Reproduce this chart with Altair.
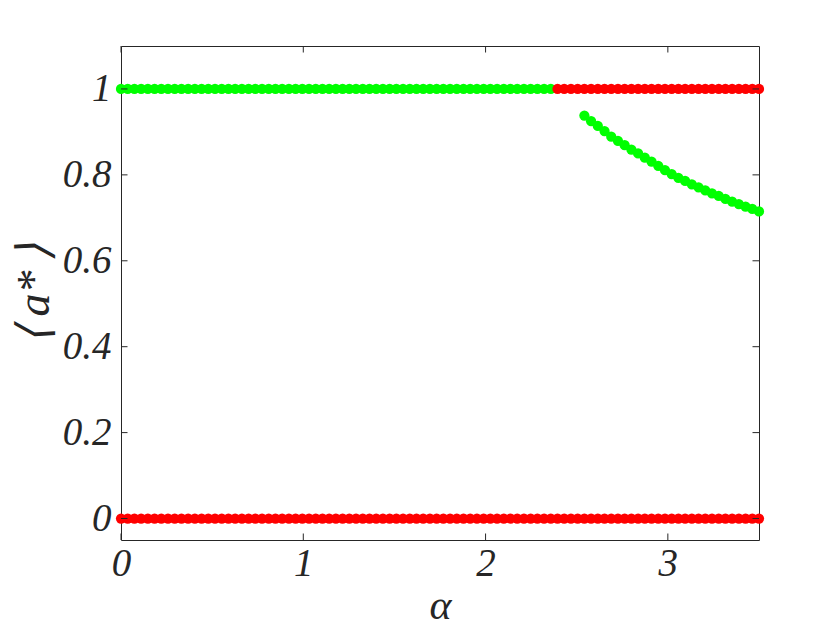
import altair as alt
import numpy as np
import pandas as pd

# sampling grid of alpha (96 uniformly spaced samples on [0, 3.5])
alpha = np.linspace(0.0, 3.5, 96)

# index ranges
green_top_end = 65      # green points at <a*>=1 for indices 0..64
red_top_start = 65      # red points at <a*>=1 for indices 65..95
curve_start = 69        # green curve for indices 69..95

curve_values = [0.938, 0.925, 0.914, 0.902, 0.889, 0.879, 0.869, 0.859, 0.850,
                0.840, 0.831, 0.821, 0.811, 0.802, 0.793, 0.786, 0.778, 0.771,
                0.764, 0.757, 0.751, 0.744, 0.738, 0.732, 0.726, 0.721, 0.715]

x_ticks = [0, 1, 2, 3]
y_ticks = [0, 0.2, 0.4, 0.6, 0.8, 1]

GREEN = "#00FF00"
RED = "#FF0000"
AX = "#262626"
FONT = "Liberation Serif"
W, H = 638, 494
TL = 6.5

red_bottom = pd.DataFrame({"a": alpha, "v": [0.0] * len(alpha)})
green_top = pd.DataFrame({"a": alpha[:green_top_end], "v": [1.0] * green_top_end})
red_top = pd.DataFrame({"a": alpha[red_top_start:], "v": [1.0] * (len(alpha) - red_top_start)})
green_curve = pd.DataFrame({"a": alpha[curve_start:], "v": curve_values})

xs = alt.Scale(domain=[0, 3.5], nice=False, zero=False)
ys = alt.Scale(domain=[-0.05, 1.1], nice=False, zero=False)


def lab(tsize):
    return dict(labelFont=FONT, labelFontStyle="italic", labelFontSize=39,
                labelColor=AX, ticks=False, domain=False, grid=False, labelFlush=False,
                labelOverlap=False,
                titleFont=FONT, titleFontStyle="italic", titleFontWeight="normal",
                titleFontSize=tsize, titleColor=AX)


x_enc = alt.X("a:Q", scale=xs,
              axis=alt.Axis(values=x_ticks, format="d", title="α", labelPadding=4,
                            titlePadding=2, **lab(42)))
y_enc = alt.Y("v:Q", scale=ys,
              axis=alt.Axis(values=y_ticks, format="~g", title="⟨\u2009a*\u2009⟩", labelPadding=10,
                            titlePadding=4, **lab(46)))


def pts(df, color):
    return alt.Chart(df).mark_circle(size=105, opacity=1, color=color).encode(x=x_enc, y=y_enc)


xt = pd.DataFrame({"a": x_ticks})
yt = pd.DataFrame({"v": y_ticks})
rule = dict(color=AX, strokeWidth=1)

ticks = [
    alt.Chart(xt).mark_rule(**rule).encode(x=x_enc, y=alt.value(H), y2=alt.value(H - TL)),
    alt.Chart(xt).mark_rule(**rule).encode(x=x_enc, y=alt.value(0), y2=alt.value(TL)),
    alt.Chart(yt).mark_rule(**rule).encode(y=y_enc, x=alt.value(0), x2=alt.value(TL)),
    alt.Chart(yt).mark_rule(**rule).encode(y=y_enc, x=alt.value(W), x2=alt.value(W - TL)),
]

chart = alt.layer(
    pts(red_bottom, RED),
    pts(green_top, GREEN),
    pts(red_top, RED),
    pts(green_curve, GREEN),
    *ticks,
).properties(
    width=W, height=H,
    background="white",
    autosize=alt.AutoSizeParams(type="none"),
    padding={"left": 113, "top": 38, "right": 70, "bottom": 90},
).configure_view(
    stroke=AX, strokeWidth=1
)

chart.save("out.html", embed_options={"renderer": "svg", "actions": False})
